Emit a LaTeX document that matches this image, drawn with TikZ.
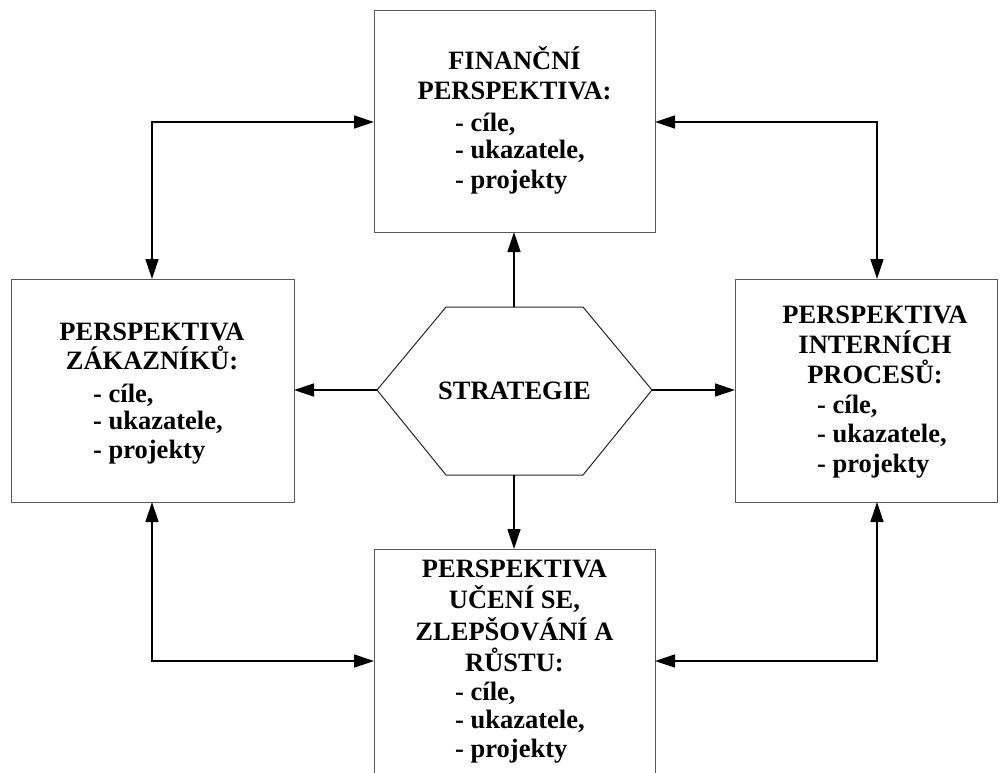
\documentclass[tikz,border=0pt]{standalone}
\usepackage{fontspec}
\setmainfont{Liberation Serif}
\usetikzlibrary{arrows.meta}
\begin{document}
\begin{tikzpicture}[x=1pt,y=-1pt,
  box/.style={draw=black!65, line width=1pt, fill=white},
  conn/.style={draw=black, line width=1.5pt, -{Triangle[length=20pt,width=13pt]}},
  bconn/.style={draw=black, line width=1.5pt, {Triangle[length=20pt,width=13pt]}-{Triangle[length=20pt,width=13pt]}},
  txt/.style={font=\fontsize{26.5}{30}\selectfont\bfseries, inner sep=0pt, anchor=base},
  ltxt/.style={font=\fontsize{26.5}{30}\selectfont\bfseries, inner sep=0pt, anchor=base west}]
\useasboundingbox (0,0) rectangle (1008,772);
\clip (0,0) rectangle (1008,772);
\fill[white] (0,0) rectangle (1008,772);
% boxes
\coordinate (tbNW) at (374,10); \coordinate (tbSE) at (655,232);
\coordinate (lbNW) at (11,279); \coordinate (lbSE) at (294,502);
\coordinate (rbNW) at (735,279); \coordinate (rbSE) at (997,502);
\coordinate (bbNW) at (374,549); \coordinate (bbSE) at (655,790);
\draw[box] (tbNW) rectangle (tbSE);
\draw[box] (lbNW) rectangle (lbSE);
\draw[box] (rbNW) rectangle (rbSE);
\draw[box] (bbNW) rectangle (bbSE);
% hexagon
\coordinate (hL) at (377,390); \coordinate (hTL) at (446,307); \coordinate (hTR) at (583,307);
\coordinate (hR) at (652,390); \coordinate (hBR) at (583,475); \coordinate (hBL) at (446,475);
\coordinate (hT) at (514,307); \coordinate (hB) at (514,475);
\draw[black!85, line width=1pt] (hL) -- (hTL) -- (hTR) -- (hR) -- (hBR) -- (hBL) -- cycle;
\node[txt] (strat) at (514.5,399) {STRATEGIE};
% connection points
\coordinate (tbS) at (514,232); \coordinate (bbN) at (514,549);
\coordinate (lbE) at (294,390); \coordinate (rbW) at (735,390);
\coordinate (lbN) at (152,279); \coordinate (lbS) at (152,502);
\coordinate (rbN) at (877,279); \coordinate (rbS) at (877,502);
\coordinate (tbW) at (374,122); \coordinate (tbE) at (655,122);
\coordinate (bbW) at (374,661); \coordinate (bbE) at (655,661);
\draw[conn] (hT) -- (tbS);
\draw[conn] (hB) -- (bbN);
\draw[conn] (hL) -- (lbE);
\draw[conn] (hR) -- (rbW);
\draw[bconn] (lbN) |- (tbW);
\draw[bconn] (tbE) -| (rbN);
\draw[bconn] (lbS) |- (bbW);
\draw[bconn] (bbE) -| (rbS);
% top box text
\node[txt] (t1) at (514.5,69) {FINANČNÍ};
\node[txt] (t2) at (514.5,99) {PERSPEKTIVA:};
\node[ltxt] (t3) at (455,131) {- cíle,};
\node[ltxt] (t4) at (455,158) {- ukazatele,};
\node[ltxt] (t5) at (455,188) {- projekty};
% left box text
\node[txt] (l1) at (152,340) {PERSPEKTIVA};
\node[txt] (l2) at (152,369) {ZÁKAZNÍKŮ:};
\node[ltxt] (l3) at (93,402) {- cíle,};
\node[ltxt] (l4) at (93,429) {- ukazatele,};
\node[ltxt] (l5) at (93,458) {- projekty};
% right box text
\node[txt] (r1) at (875,323) {PERSPEKTIVA};
\node[txt] (r2) at (875,353) {INTERNÍCH};
\node[txt] (r3) at (875,383) {PROCESŮ:};
\node[ltxt] (r4) at (817,413) {- cíle,};
\node[ltxt] (r5) at (817,442) {- ukazatele,};
\node[ltxt] (r6) at (817,472) {- projekty};
% bottom box text
\node[txt] (b1) at (514.5,577) {PERSPEKTIVA};
\node[txt] (b2) at (514.5,608) {UČENÍ SE,};
\node[txt] (b3) at (514.5,640) {ZLEPŠOVÁNÍ A};
\node[txt] (b4) at (514.5,671) {RŮSTU:};
\node[ltxt] (b5) at (455,700) {- cíle,};
\node[ltxt] (b6) at (455,728) {- ukazatele,};
\node[ltxt] (b7) at (455,757) {- projekty};
\end{tikzpicture}
\end{document}
